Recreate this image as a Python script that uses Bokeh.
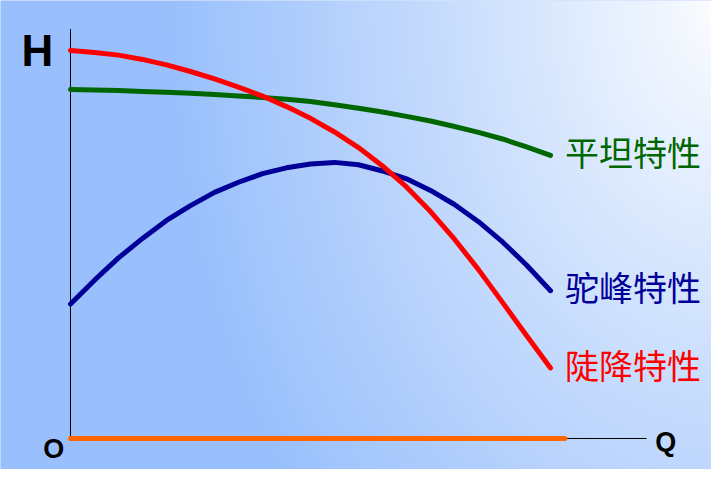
import numpy as np
from bokeh.plotting import figure
from bokeh.models import Range1d
from bokeh.core.properties import value
from bokeh.embed import file_html
from bokeh.resources import INLINE

# ---------------- data ----------------
flow = [0, 5, 10, 15, 20, 25, 30, 35, 40, 45, 50, 55, 60, 65, 70, 75, 80, 85, 90, 95, 100]
head_flat = [89.5, 89.35, 89.2, 89.0, 88.8, 88.5, 88.2, 87.85, 87.45, 87.0, 86.4,
             85.6, 84.7, 83.7, 82.6, 81.4, 80.0, 78.5, 76.8, 74.8, 72.6]
head_hump = [34.5, 40.6, 46.3, 51.3, 55.9, 59.7, 63.1, 65.7, 67.9, 69.4, 70.4,
             70.8, 70.2, 68.6, 66.6, 63.6, 60.0, 55.6, 50.4, 44.5, 37.9]
head_steep = [99.5, 99.0, 98.3, 97.2, 95.8, 94.1, 92.2, 90.1, 87.8, 85.1, 82.1,
              78.6, 74.6, 69.9, 64.5, 58.2, 51.1, 43.3, 34.9, 26.4, 18.1]
series_labels = ["平坦特性", "驼峰特性", "陡降特性"]
orange_flow = [0, 103]
orange_head = [0, 0]
q_axis_max = 120
h_axis_max = 105
axis_names = ["H", "O", "Q"]

# ---------------- figure ----------------
W, H = 711, 469
x0, x1 = -14.583, 133.542
y0, y1 = -7.949, 112.308

p = figure(width=W, height=H, output_backend="svg", toolbar_location=None,
           x_range=Range1d(x0, x1), y_range=Range1d(y0, y1), min_border=0)
p.axis.visible = False
p.grid.visible = False
p.outline_line_color = None
p.background_fill_color = "#a8c8fc"
p.border_fill_color = "#a8c8fc"

# background gradient (white top-right corner to blue)
xs = np.arange(W) + 0.5
ys = np.arange(H) + 0.5
X, Y = np.meshgrid(xs, ys)
d = np.sqrt((727 - X) ** 2 + (0.707 * Y) ** 2)
t = np.clip(d / 560.0, 0, 1) ** 0.9
img = np.empty((H, W), dtype=np.uint32)
v = img.view(dtype=np.uint8).reshape((H, W, 4))
v[:, :, 0] = (255 + (153 - 255) * t).astype(np.uint8)
v[:, :, 1] = (255 + (192 - 255) * t).astype(np.uint8)
v[:, :, 2] = (255 + (252 - 255) * t).astype(np.uint8)
v[:, :, 3] = 255
p.image_rgba(image=[img[::-1]], x=x0, y=y0, dw=x1 - x0, dh=y1 - y0)

# axes
p.segment(x0=[0, 0], y0=[0, 0], x1=[0, q_axis_max], y1=[h_axis_max, 0],
          line_color="black", line_width=1)

# orange base line
p.line(orange_flow, orange_head, line_color="#ff6600", line_width=5, line_cap="round")

curves = [(head_flat, "#006600"), (head_hump, "#000099"), (head_steep, "#ff0000")]
for (hd, col), lab in zip(curves, series_labels):
    p.line(flow, hd, line_color=col, line_width=5, line_cap="round", line_join="round")
    p.text(x=[flow[-1] + 3], y=[hd[-1] + 1], text=[lab], text_color=col,
           text_font=value("Noto Sans CJK SC"), text_font_size=value("34px"),
           text_align="left", text_baseline="middle")

p.text(x=[-6.9], y=[99.5], text=[axis_names[0]], text_color="black",
       text_font=value("Liberation Sans"), text_font_style="bold",
       text_font_size=value("44px"), text_align="center", text_baseline="middle")
p.text(x=[-3.5], y=[-2.8], text=[axis_names[1]], text_color="black",
       text_font=value("Liberation Sans"), text_font_style="bold",
       text_font_size=value("27px"), text_align="center", text_baseline="middle")
p.text(x=[124.0], y=[-0.8], text=[axis_names[2]], text_color="black",
       text_font=value("Liberation Sans"), text_font_style="bold",
       text_font_size=value("27px"), text_align="center", text_baseline="middle")

open("out.html", "w").write(file_html(p, INLINE))
